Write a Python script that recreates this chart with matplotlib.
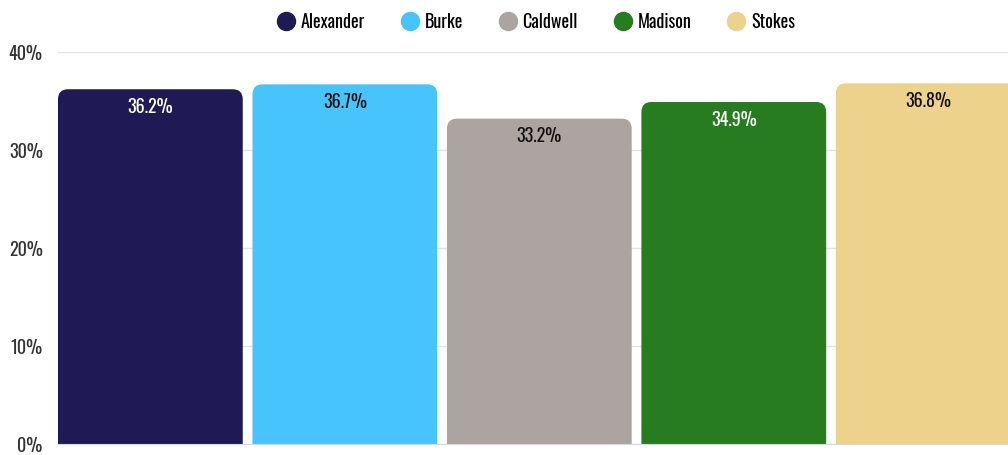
import matplotlib.pyplot as plt
from matplotlib.patches import FancyBboxPatch
from matplotlib.lines import Line2D

# data
counties = ["Alexander", "Burke", "Caldwell", "Madison", "Stokes"]
values = [36.2, 36.7, 33.2, 34.9, 36.8]
colors = ["#1f1a55", "#48c4fd", "#aca4a1", "#267c1e", "#ecd28a"]
label_colors = ["white", "#111111", "#111111", "white", "#111111"]
yticks = [0, 10, 20, 30, 40]

plt.rcParams['font.family'] = ['Oswald', 'Liberation Sans Narrow', 'DejaVu Sans']
plt.rcParams['font.weight'] = 300

fig = plt.figure(figsize=(10.08, 4.56), dpi=100)
ax = fig.add_axes([58/1008, 1 - 445/456, 1 - 58/1008, (445 - 53)/456])

x = list(range(len(counties)))
width = 0.95
bars = ax.bar(x, values, width=width, color=colors)

ax.set_xlim(-0.475, 4.41)
ax.set_ylim(0, 40)

# swap plain bars for bars with rounded top corners
px_x = (4.41 + 0.475) / 950
px_y = 40 / 392
r = 10 * px_x
aspect = px_y / px_x
for b, c in zip(bars, colors):
    b.set_visible(False)
    patch = FancyBboxPatch((b.get_x(), -2), b.get_width(), b.get_height() + 2,
                           boxstyle="round,pad=0,rounding_size=%f" % r,
                           mutation_aspect=aspect, facecolor=c,
                           edgecolor="none", zorder=3)
    ax.add_patch(patch)

for xi, v, lc in zip(x, values, label_colors):
    ax.text(xi, v - 1.7, f"{v}%", ha="center", va="center",
            fontsize=13, color=lc, zorder=4)

ax.set_yticks(yticks)
ax.set_yticklabels([f"{t}%" for t in yticks])
ax.tick_params(axis="y", length=0, pad=11, labelsize=13, labelcolor="#333333")
ax.set_xticks([])
ax.grid(axis="y", color="#e3e3e3", linewidth=1, zorder=0)
ax.set_axisbelow(True)
for s in ["top", "right", "left"]:
    ax.spines[s].set_visible(False)
ax.spines["bottom"].set_color("#d8d8e4")
ax.spines["bottom"].set_zorder(5)

handles = [Line2D([], [], marker="o", linestyle="none", markersize=13,
                  markerfacecolor=c, markeredgecolor=c) for c in colors]
fig.legend(handles, counties, loc="center", bbox_to_anchor=(536/1008, 1 - 22/456),
           ncol=5, frameon=False, fontsize=13, handletextpad=0.3,
           columnspacing=2.0, handlelength=1.0)

fig.savefig("out.png", dpi=100)
